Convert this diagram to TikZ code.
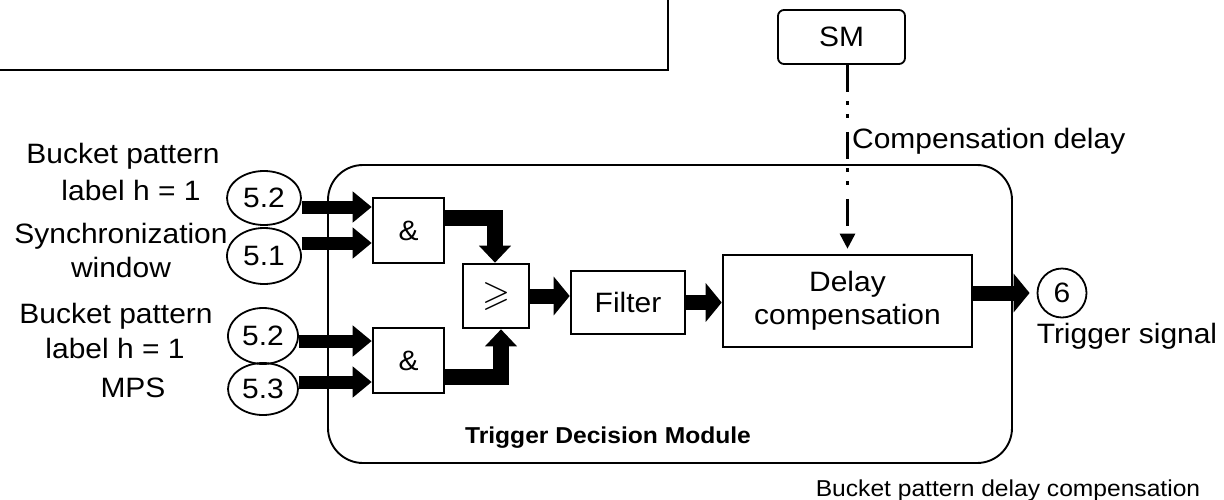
\documentclass[tikz,border=0pt]{standalone}
\usepackage{amssymb}
\usepackage{fontspec}
\setmainfont{Liberation Sans}[FakeStretch=1.07]
\usetikzlibrary{arrows.meta,shapes.geometric}

\tikzset{
  lbl/.style={inner sep=0pt, font=\fontsize{28}{33}\selectfont},
  captext/.style={inner sep=0pt, font=\fontsize{23}{27}\selectfont},
  blk/.style={draw, line width=2.6pt, fill=white, inner sep=0pt,
              font=\fontsize{28}{33}\selectfont, align=center},
  tag/.style={draw, ellipse, line width=1.8pt, inner sep=0pt,
              font=\fontsize{28}{33}\selectfont},
  fat/.style={line width=13pt, -{Triangle[length=19pt,width=30pt]}},
  fatw/.style={line width=15pt, -{Triangle[length=16pt,width=38pt]}},
  elbow/.style={line width=16pt, line join=miter, -{Triangle[length=17pt,width=31pt]}},
  dashdot/.style={line width=2.6pt,
    dash pattern=on 27pt off 9pt on 4pt off 9pt on 4pt off 14pt,
    -{Triangle[length=15pt,width=15pt]}},
}

\begin{document}
\begin{tikzpicture}[x=1pt,y=-1pt]
\useasboundingbox (0,0) rectangle (1224,499);

% corner of the frame above
\draw[line width=2.5pt] (-2,70) -- (668,70) -- (668,-2);

% trigger decision module
\node[draw, line width=1.9pt, rounded corners=35pt, minimum width=684pt,
      minimum height=298pt, inner sep=0pt] (tdm) at (670,314) {};
\node[inner sep=0pt, anchor=base, font=\bfseries\fontsize{23}{27}\selectfont]
      (tdmname) at (608,443) {Trigger Decision Module};

% input labels
\node[lbl, anchor=base] (l1a) at (123,163) {Bucket pattern};
\node[lbl, anchor=base] (l1b) at (131,200) {label h = 1};
\node[lbl, anchor=base] (l2a) at (121,243) {Synchronization};
\node[lbl, anchor=base] (l2b) at (121,277) {window};
\node[lbl, anchor=base] (l3a) at (116,323) {Bucket pattern};
\node[lbl, anchor=base] (l3b) at (115,358) {label h = 1};
\node[lbl, anchor=base] (l4)  at (133,397) {MPS};

% input tags
\node[tag, minimum width=74pt, minimum height=54pt] (e1) at (264,198) {5.2};
\node[tag, minimum width=74pt, minimum height=56pt] (e2) at (264,256) {5.1};
\node[tag, minimum width=70pt, minimum height=56pt] (e3) at (263,336) {5.2};
\node[tag, minimum width=70pt, minimum height=52pt] (e4) at (263,389) {5.3};

% logic blocks
\node[blk, minimum width=71pt, minimum height=65pt] (tand) at (408.5,230.5) {\&};
\node[blk, minimum width=71pt, minimum height=65pt] (band) at (408.5,360.5) {\&};
\node[blk, minimum width=66pt, minimum height=64pt,
      font=\fontsize{36}{38}\selectfont] (ge) at (496,296) {$\geqslant$};
\node[blk, minimum width=114pt, minimum height=63pt] (filt) at (628,302.5) {Filter};
\node[blk, minimum width=249pt, minimum height=92pt] (delay) at (847.5,301)
      {Delay\\compensation};

% SM block
\node[draw, line width=1.8pt, rounded corners=6pt, minimum width=127pt,
      minimum height=54pt, inner sep=0pt, font=\fontsize{28}{33}\selectfont]
      (sm) at (841.5,37) {SM};

% output tag
\node[draw, circle, line width=1.8pt, minimum size=49pt, inner sep=0pt,
      font=\fontsize{28}{33}\selectfont] (six) at (1062,293) {6};
\node[lbl, anchor=base] (trig) at (1127,343) {Trigger signal};

% inputs into the AND blocks
\coordinate (in1) at ([yshift=23.5pt]tand.west);
\coordinate (in2) at ([yshift=-12.5pt]tand.west);
\coordinate (in3) at ([yshift=19.5pt]band.west);
\coordinate (in4) at ([yshift=-21.5pt]band.west);
\draw[fat] (e1.east |- in1) -- (in1);
\draw[fat] (e2.east |- in2) -- (in2);
\draw[fat] (e3.east |- in3) -- (in3);
\draw[fat] (e4.east |- in4) -- (in4);

% AND blocks into the threshold block
\draw[elbow] ([yshift=12.5pt]tand.east) -| ([xshift=-1pt]ge.north);
\draw[elbow] ([yshift=-16pt]band.east) -| ([xshift=5pt]ge.south);

% main chain
\draw[fatw] (ge.east) -- (ge.east -| filt.west);
\draw[fatw] (filt.east) -- (filt.east -| delay.west);
\draw[fatw, shorten >=7pt] (delay.east |- six.west) -- (six.west);

% compensation delay from SM
\draw[dashdot, shorten >=5pt] (delay.north |- sm.south) -- (delay.north);
\node[lbl, anchor=base west] (cdl) at (852,148) {Compensation delay};

% caption
\node[captext, anchor=base] (caption) at (1008,496) {Bucket pattern delay compensation};
\end{tikzpicture}
\end{document}
